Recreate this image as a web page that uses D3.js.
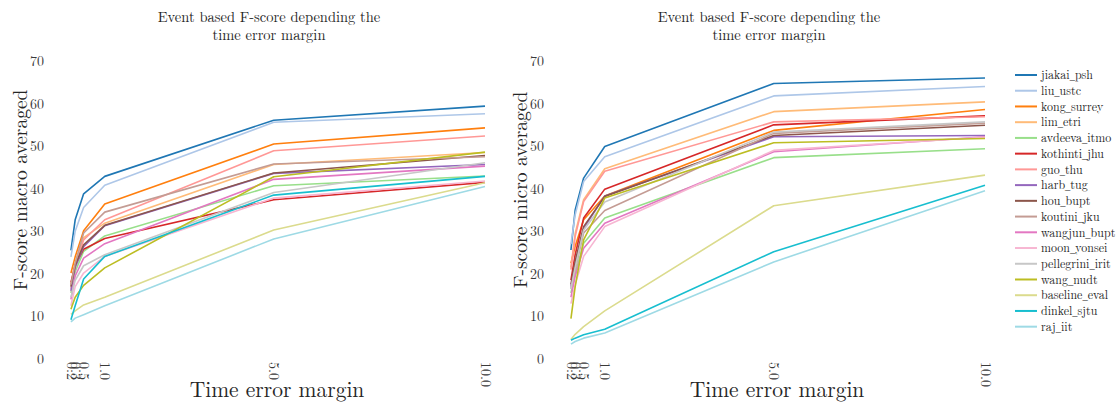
<!DOCTYPE html>
<html>
<head>
<meta charset="utf-8">
<script src="https://cdn.jsdelivr.net/npm/d3@7"></script>
<style>
  html, body { margin: 0; padding: 0; background: #fff; }
</style>
</head>
<body>
<svg id="chart" width="1117" height="403"></svg>
<script>
// ---------------- data ----------------
const timeMargins = [0.2, 0.3, 0.5, 1.0, 5.0, 10.0];
const yTicks = [0, 10, 20, 30, 40, 50, 60, 70];
const systems = ["jiakai_psh", "liu_ustc", "kong_surrey", "lim_etri", "avdeeva_itmo", "kothinti_jhu",
  "guo_thu", "harb_tug", "hou_bupt", "koutini_jku", "wangjun_bupt", "moon_yonsei",
  "pellegrini_irit", "wang_nudt", "baseline_eval", "dinkel_sjtu", "raj_iit"];
const colors = ["#1f77b4", "#aec7e8", "#ff7f0e", "#ffbb78", "#98df8a", "#d62728",
  "#ff9896", "#9467bd", "#8c564b", "#c49c94", "#e377c2", "#f7b6d2",
  "#c7c7c7", "#bcbd22", "#dbdb8d", "#17becf", "#9edae5"];

// F-score macro averaged (left panel), one row per system, columns = timeMargins
const macroScores = [
  [25.5, 32.7, 38.8, 42.9, 56.1, 59.4],
  [24.0, 30.0, 35.6, 40.8, 55.6, 57.6],
  [20.2, 24.0, 30.1, 36.4, 50.5, 54.3],
  [17.5, 22.5, 28.5, 31.9, 45.7, 48.5],
  [15.5, 20.5, 25.3, 28.9, 40.7, 43.0],
  [18.0, 22.0, 25.8, 28.3, 37.4, 41.5],
  [16.5, 21.5, 28.0, 32.7, 48.9, 52.4],
  [16.0, 21.5, 26.4, 31.3, 43.6, 45.7],
  [17.0, 22.0, 26.8, 31.4, 43.7, 47.8],
  [17.5, 22.5, 29.6, 34.5, 45.8, 47.5],
  [14.0, 19.5, 23.7, 27.1, 42.2, 45.3],
  [12.5, 17.0, 20.2, 24.1, 37.8, 41.8],
  [14.5, 18.5, 21.9, 24.5, 39.1, 46.1],
  [11.7, 14.5, 17.3, 21.4, 42.8, 48.6],
  [10.5, 11.3, 12.7, 14.5, 30.3, 41.4],
  [9.2, 12.5, 18.8, 24.1, 38.5, 42.9],
  [8.7, 9.6, 10.4, 12.5, 28.2, 40.5]
];
// F-score micro averaged (right panel)
const microScores = [
  [25.6, 35.0, 42.5, 49.9, 64.7, 66.0],
  [27.0, 33.9, 41.7, 47.5, 61.8, 64.0],
  [22.5, 26.5, 32.7, 38.3, 53.7, 58.6],
  [21.5, 29.5, 37.4, 44.7, 58.1, 60.4],
  [15.5, 20.0, 27.2, 33.1, 47.3, 49.4],
  [18.5, 24.5, 33.1, 39.9, 55.0, 57.1],
  [21.0, 28.8, 37.0, 44.1, 55.7, 56.9],
  [17.0, 22.0, 30.7, 38.3, 52.2, 52.5],
  [17.5, 23.0, 31.1, 38.2, 52.5, 54.9],
  [16.5, 21.0, 29.6, 34.9, 53.0, 55.4],
  [14.5, 19.5, 26.0, 31.9, 48.7, 52.2],
  [13.0, 17.5, 24.1, 31.1, 49.0, 52.1],
  [16.5, 21.5, 30.3, 36.9, 53.3, 55.7],
  [9.5, 17.0, 28.0, 37.8, 50.8, 51.8],
  [4.6, 5.8, 7.6, 11.3, 36.0, 43.2],
  [4.4, 4.9, 5.7, 7.0, 25.2, 40.8],
  [3.5, 4.1, 4.9, 6.1, 22.8, 39.5]
];
const titleLines = ["Event based F-score depending the", "time error margin"];
const xLabel = "Time error margin";
const yLabels = ["F-score macro averaged", "F-score micro averaged"];

// ---------------- drawing ----------------
const FONT = '"Latin Modern Roman", "Liberation Serif", serif';
const svg = d3.select("#chart");
const textColor = "#262626";
const tickColor = "#3a3a3a";

function txt(sel) { return sel.style("font-family", FONT); }

function panel(offsetX, scores, yLabel) {
  const g = svg.append("g").attr("transform", `translate(${offsetX},0)`);
  const x = d3.scaleLinear().domain([0, 10]).range([62.5, 485]);
  const y = d3.scaleLinear().domain([0, 70]).range([359, 61]);

  // title
  titleLines.forEach((t, i) => {
    txt(g.append("text")).attr("x", 269).attr("y", 22 + i * 18).attr("text-anchor", "middle")
      .style("font-size", "14.5px").attr("fill", textColor).text(t);
  });

  // y axis
  const ya = g.append("g").attr("transform", "translate(50,0)")
    .call(d3.axisLeft(y).tickValues(yTicks).tickSize(0).tickPadding(6).tickFormat(d3.format("d")));
  ya.select(".domain").remove();
  ya.attr("font-family", null).attr("font-size", null);
  txt(ya.selectAll("text")).style("font-size", "14px").attr("fill", tickColor);

  // x axis
  const xa = g.append("g").attr("transform", "translate(0,359)")
    .call(d3.axisBottom(x).tickValues(timeMargins).tickSize(0).tickFormat(d3.format(".1f")));
  xa.select(".domain").remove();
  xa.attr("font-family", null).attr("font-size", null);
  txt(xa.selectAll("text"))
    .attr("transform", "rotate(90)")
    .attr("x", 3).attr("y", 0).attr("dy", "0.35em")
    .style("text-anchor", "start")
    .style("font-size", "14px").attr("fill", tickColor);

  // axis labels
  txt(g.append("text")).attr("x", 277).attr("y", 397).attr("text-anchor", "middle")
    .style("font-size", "21.5px").attr("fill", textColor).text(xLabel);
  txt(g.append("text")).attr("transform", "translate(27,190) rotate(-90)")
    .attr("text-anchor", "middle").style("font-size", "19.5px").attr("fill", textColor).text(yLabel);

  // lines
  const line = d3.line().x((d, i) => x(timeMargins[i])).y(d => y(d));
  g.append("g").selectAll("path").data(scores).join("path")
    .attr("d", d => line(d))
    .attr("fill", "none")
    .attr("stroke", (d, i) => colors[i])
    .attr("stroke-width", 1.6)
    .attr("stroke-linejoin", "round");
}

panel(0, macroScores, yLabels[0]);
panel(500, microScores, yLabels[1]);

// legend (underscore drawn with a narrower glyph, like LaTeX \_)
const legend = svg.append("g");
systems.forEach((name, i) => {
  const yy = 75 + i * 15.73;
  legend.append("line").attr("x1", 1015).attr("x2", 1037).attr("y1", yy).attr("y2", yy)
    .attr("stroke", colors[i]).attr("stroke-width", 2);
  const t = txt(legend.append("text")).attr("x", 1041).attr("y", yy).attr("dy", "0.35em")
    .style("font-size", "12px").attr("fill", textColor);
  name.split(/(_)/).forEach(part => {
    const sp = t.append("tspan").text(part);
    if (part === "_") sp.style("font-family", '"Liberation Serif", serif').style("font-size", "10.5px");
  });
});
</script>
</body>
</html>
